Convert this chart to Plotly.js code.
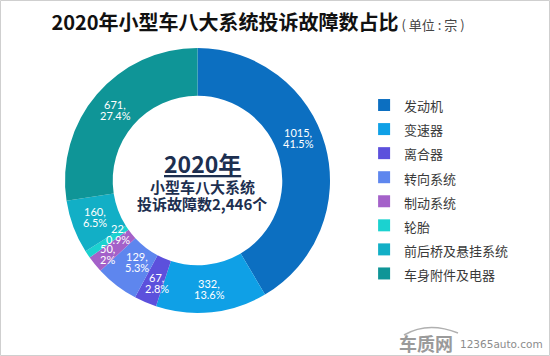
<!DOCTYPE html>
<html>
<head>
<meta charset="utf-8">
<script src="https://cdn.plot.ly/plotly-3.0.1.min.js"></script>
<style>html,body{margin:0;padding:0;background:#fff;}#chart{width:550px;height:356px;}</style>
</head>
<body>
<div id="chart"></div>
<script>
// ---- data ----
const categories = ['发动机','变速器','离合器','转向系统','制动系统','轮胎','前后桥及悬挂系统','车身附件及电器'];
const counts = [1015, 332, 67, 129, 50, 22, 160, 671];
const pctLabels = ['41.5%','13.6%','2.8%','5.3%','2%','0.9%','6.5%','27.4%'];
const totalLabel = '2,446';
const yearLabel = '2020';

// ---- styles ----
const colors = ['#0c6fc1','#0fa0e6','#5c50dc','#5e86ee','#a461c9','#1bd2d0','#12afc6','#0f9597'];
const W = 550, H = 356;
const CX = 197.5, CY = 180.5, R = 132.5, HOLE = 0.64;
// small label nudges (degrees, px) to mimic the reference label placement
const angleNudge = [-7.7, 0, -1.5, -1, 0, 0, 1, 0];
const radiusNudge = [1, 0, 2, -7, 8, -13, 0, 0];

const domainX = [(CX - R) / W, (CX + R) / W];
const domainY = [1 - (CY + R) / H, 1 - (CY - R) / H];

const trace = {
  type: 'pie',
  labels: categories.map(c => '<span style="font-size:13px">' + c + '</span>'),
  values: counts,
  sort: false,
  direction: 'clockwise',
  rotation: 0,
  hole: HOLE,
  domain: {x: domainX, y: domainY},
  marker: {colors: colors, line: {width: 0}},
  textinfo: 'none',
  hoverinfo: 'label+value+percent'
};

// slice labels, placed from the data through the pie geometry
const total = counts.reduce((a, b) => a + b, 0);
const annotations = [];
let cum = 0;
const rMid = (R + R * HOLE) / 2;
counts.forEach((v, i) => {
  const midFrac = (cum + v / 2) / total;
  cum += v;
  const th = (midFrac * 360 + angleNudge[i]) * Math.PI / 180;
  const r = rMid + radiusNudge[i];
  const px = CX + r * Math.sin(th);
  const py = CY - r * Math.cos(th);
  const base = {xref: 'paper', yref: 'paper', x: px / W, y: 1 - py / H,
    showarrow: false, xanchor: 'center', yanchor: 'middle',
    font: {family: 'Lato, "Noto Sans", sans-serif', size: 11, color: '#ffffff'}};
  annotations.push(Object.assign({}, base, {text: v + ',', yshift: 5.5}));
  annotations.push(Object.assign({}, base, {text: pctLabels[i], yshift: -5.5}));
});

// centre text
const cjk = '"Noto Sans CJK SC", "Noto Sans", sans-serif';
annotations.push({xref: 'paper', yref: 'paper', x: 202 / W, y: 1 - 163 / H, showarrow: false,
  xanchor: 'center', yanchor: 'middle',
  text: '<b><u>' + yearLabel + '年</u></b>', font: {family: cjk, size: 23, color: '#1d2f50'}});
annotations.push({xref: 'paper', yref: 'paper', x: 202 / W, y: 1 - 186 / H, showarrow: false,
  xanchor: 'center', yanchor: 'middle',
  text: '<b>小型车八大系统</b>', font: {family: cjk, size: 15, color: '#1d2f50'}});
annotations.push({xref: 'paper', yref: 'paper', x: 202 / W, y: 1 - 203.5 / H, showarrow: false,
  xanchor: 'center', yanchor: 'middle',
  text: '<b>投诉故障数' + totalLabel + '个</b>', font: {family: cjk, size: 15, color: '#1d2f50'}});

// watermark
annotations.push({xref: 'paper', yref: 'paper', x: 426 / W, y: 1 - 343 / H, showarrow: false,
  xanchor: 'center', yanchor: 'middle',
  text: '<b>车质网</b>', font: {family: cjk, size: 18, color: '#9a9a9a'}});
annotations.push({xref: 'paper', yref: 'paper', x: 501 / W, y: 1 - 344 / H, showarrow: false,
  xanchor: 'center', yanchor: 'middle',
  text: '12365auto.com', font: {family: '"DejaVu Sans", sans-serif', size: 10.5, color: '#8c8c8c'}});

const layout = {
  width: W, height: H,
  margin: {l: 0, r: 0, t: 0, b: 0},
  paper_bgcolor: '#ffffff',
  title: {
    text: '<b>2020年小型车八大系统投诉故障数占比</b><span style="font-size:13px;color:#444"> ( 单位 : 宗 )</span>',
    x: 258 / W, xanchor: 'center', xref: 'paper',
    y: 1 - 23 / H, yanchor: 'middle', yref: 'container',
    font: {family: cjk, size: 20, color: '#111111'}
  },
  showlegend: true,
  legend: {
    x: 0.662, xanchor: 'left', y: 1 - 88 / H, yanchor: 'top',
    font: {family: cjk, size: 16.2, color: '#3a3a3a'},
    bgcolor: 'rgba(0,0,0,0)', traceorder: 'normal'
  },
  annotations: annotations,
  shapes: [
    {type: 'rect', xref: 'paper', yref: 'paper', x0: 0.5 / W, x1: 1 - 0.5 / W, y0: 0.5 / H, y1: 1 - 0.5 / H,
     line: {color: '#cfcfcf', width: 1}, fillcolor: 'rgba(0,0,0,0)'},
    {type: 'path', xref: 'paper', yref: 'paper',
     path: 'M ' + (404 / W) + ' ' + (1 - 335 / H) + ' Q ' + (428 / W) + ' ' + (1 - 321 / H) + ' ' + (458 / W) + ' ' + (1 - 333 / H),
     line: {color: '#b0b0b0', width: 1.5}}
  ]
};

Plotly.newPlot('chart', [trace], layout, {displayModeBar: false, staticPlot: true});
</script>
</body>
</html>
